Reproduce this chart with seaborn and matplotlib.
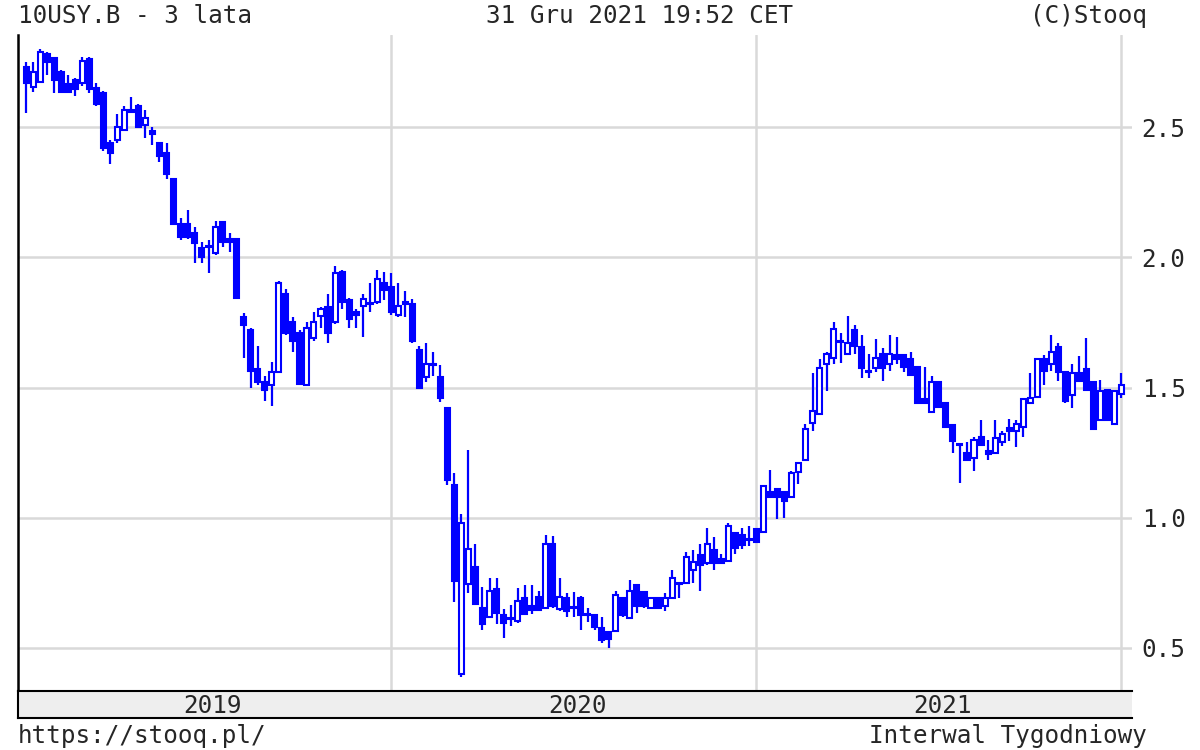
import matplotlib
matplotlib.use("Agg")

import matplotlib.pyplot as plt
import seaborn as sns
import pandas as pd

sns.set_style("white")
plt.rcParams["font.family"] = ["DejaVu Sans Mono", "DejaVu Sans"]

# tygodniowe swiece 10USY.B, tydzien od poniedzialku
weeks = pd.date_range("2018-12-31", periods=157, freq="7D")

opens = [
    2.73, 2.655, 2.675, 2.78, 2.765, 2.71, 2.665, 2.68, 2.67, 2.76,
    2.65, 2.63, 2.44, 2.45, 2.49, 2.56, 2.58, 2.51, 2.485, 2.44,
    2.40, 2.30, 2.13, 2.13, 2.095, 2.035, 2.04, 2.015, 2.135, 2.07,
    2.07, 1.77, 1.72, 1.57, 1.52, 1.51, 1.56, 1.86, 1.75, 1.71,
    1.51, 1.69, 1.775, 1.81, 1.75, 1.945, 1.835, 1.79, 1.815, 1.82,
    1.83, 1.90, 1.885, 1.78, 1.83, 1.82, 1.645, 1.54, 1.59, 1.54,
    1.42, 1.127, 0.40, 0.745, 0.81, 0.655, 0.62, 0.725, 0.625, 0.61,
    0.605, 0.69, 0.66, 0.695, 0.655, 0.90, 0.65, 0.69, 0.655, 0.69,
    0.625, 0.625, 0.575, 0.56, 0.565, 0.69, 0.615, 0.74, 0.715, 0.655,
    0.69, 0.66, 0.69, 0.75, 0.75, 0.80, 0.855, 0.825, 0.875, 0.84,
    0.835, 0.94, 0.935, 0.915, 0.955, 0.945, 1.10, 1.11, 1.10, 1.08,
    1.175, 1.22, 1.365, 1.40, 1.59, 1.615, 1.68, 1.63, 1.72, 1.655,
    1.56, 1.575, 1.63, 1.59, 1.625, 1.625, 1.61, 1.58, 1.455, 1.405,
    1.52, 1.44, 1.355, 1.28, 1.25, 1.23, 1.31, 1.255, 1.25, 1.29,
    1.345, 1.335, 1.35, 1.44, 1.465, 1.61, 1.59, 1.655, 1.56, 1.47,
    1.555, 1.57, 1.52, 1.375, 1.49, 1.36, 1.475,
]
highs = [
    2.75, 2.75, 2.80, 2.79, 2.77, 2.72, 2.70, 2.69, 2.77, 2.77,
    2.67, 2.64, 2.45, 2.55, 2.58, 2.615, 2.59, 2.565, 2.50, 2.44,
    2.44, 2.30, 2.15, 2.18, 2.115, 2.06, 2.065, 2.14, 2.14, 2.095,
    2.075, 1.785, 1.73, 1.66, 1.545, 1.60, 1.91, 1.88, 1.77, 1.72,
    1.75, 1.79, 1.81, 1.86, 1.965, 1.95, 1.845, 1.80, 1.86, 1.90,
    1.95, 1.945, 1.94, 1.90, 1.87, 1.84, 1.66, 1.67, 1.635, 1.585,
    1.42, 1.17, 1.015, 1.26, 0.90, 0.735, 0.77, 0.77, 0.65, 0.665,
    0.73, 0.74, 0.74, 0.72, 0.935, 0.93, 0.77, 0.71, 0.715, 0.70,
    0.655, 0.63, 0.62, 0.56, 0.72, 0.695, 0.76, 0.74, 0.72, 0.695,
    0.695, 0.71, 0.80, 0.75, 0.87, 0.875, 0.90, 0.96, 0.925, 0.86,
    0.98, 0.94, 0.96, 0.97, 0.96, 1.12, 1.185, 1.115, 1.10, 1.18,
    1.21, 1.36, 1.555, 1.61, 1.635, 1.75, 1.71, 1.775, 1.74, 1.70,
    1.63, 1.685, 1.65, 1.70, 1.695, 1.63, 1.635, 1.58, 1.58, 1.545,
    1.52, 1.445, 1.355, 1.285, 1.29, 1.31, 1.375, 1.30, 1.375, 1.335,
    1.38, 1.375, 1.46, 1.555, 1.615, 1.625, 1.70, 1.67, 1.56, 1.59,
    1.62, 1.69, 1.525, 1.53, 1.495, 1.49, 1.555,
]
lows = [
    2.555, 2.635, 2.67, 2.70, 2.63, 2.63, 2.63, 2.62, 2.66, 2.63,
    2.58, 2.41, 2.36, 2.44, 2.485, 2.555, 2.50, 2.46, 2.43, 2.365,
    2.30, 2.13, 2.065, 2.07, 1.98, 1.98, 1.94, 2.01, 2.04, 2.02,
    1.84, 1.615, 1.50, 1.51, 1.45, 1.43, 1.555, 1.70, 1.635, 1.51,
    1.505, 1.68, 1.73, 1.67, 1.745, 1.80, 1.73, 1.73, 1.695, 1.79,
    1.82, 1.835, 1.78, 1.77, 1.77, 1.67, 1.50, 1.52, 1.545, 1.445,
    1.127, 0.675, 0.39, 0.71, 0.67, 0.57, 0.62, 0.59, 0.54, 0.585,
    0.595, 0.63, 0.63, 0.64, 0.65, 0.655, 0.64, 0.62, 0.62, 0.57,
    0.60, 0.57, 0.52, 0.50, 0.56, 0.62, 0.615, 0.635, 0.655, 0.65,
    0.655, 0.64, 0.69, 0.69, 0.75, 0.75, 0.72, 0.82, 0.80, 0.825,
    0.835, 0.86, 0.88, 0.89, 0.905, 0.94, 1.075, 0.995, 1.00, 1.075,
    1.13, 1.22, 1.335, 1.40, 1.485, 1.59, 1.595, 1.63, 1.63, 1.535,
    1.535, 1.56, 1.525, 1.565, 1.59, 1.56, 1.545, 1.435, 1.435, 1.405,
    1.425, 1.345, 1.25, 1.135, 1.22, 1.18, 1.28, 1.22, 1.25, 1.275,
    1.295, 1.27, 1.31, 1.44, 1.465, 1.51, 1.565, 1.525, 1.44, 1.42,
    1.52, 1.49, 1.34, 1.375, 1.375, 1.36, 1.46,
]
closes = [
    2.67, 2.71, 2.79, 2.75, 2.68, 2.635, 2.635, 2.645, 2.755, 2.645,
    2.59, 2.42, 2.40, 2.50, 2.565, 2.565, 2.50, 2.535, 2.475, 2.39,
    2.32, 2.13, 2.08, 2.08, 2.055, 2.00, 2.045, 2.115, 2.06, 2.06,
    1.845, 1.74, 1.565, 1.52, 1.49, 1.56, 1.90, 1.71, 1.68, 1.515,
    1.73, 1.75, 1.80, 1.71, 1.94, 1.83, 1.765, 1.78, 1.84, 1.825,
    1.915, 1.875, 1.79, 1.815, 1.82, 1.68, 1.50, 1.59, 1.585, 1.46,
    1.145, 0.758, 0.98, 0.88, 0.67, 0.59, 0.72, 0.635, 0.595, 0.615,
    0.68, 0.63, 0.645, 0.645, 0.90, 0.66, 0.695, 0.64, 0.655, 0.625,
    0.625, 0.58, 0.53, 0.535, 0.705, 0.625, 0.72, 0.66, 0.66, 0.69,
    0.655, 0.69, 0.77, 0.745, 0.85, 0.83, 0.82, 0.90, 0.825, 0.825,
    0.97, 0.885, 0.895, 0.915, 0.905, 1.12, 1.08, 1.08, 1.065, 1.17,
    1.21, 1.34, 1.41, 1.575, 1.63, 1.725, 1.675, 1.67, 1.66, 1.575,
    1.56, 1.615, 1.575, 1.63, 1.61, 1.58, 1.55, 1.44, 1.44, 1.52,
    1.425, 1.35, 1.295, 1.28, 1.22, 1.30, 1.28, 1.245, 1.305, 1.32,
    1.335, 1.36, 1.455, 1.46, 1.61, 1.565, 1.635, 1.56, 1.45, 1.555,
    1.525, 1.49, 1.34, 1.485, 1.375, 1.485, 1.51,
]

year_labels = ["2019", "2020", "2021"]
y_ticks = [0.5, 1.0, 1.5, 2.0, 2.5]

BLUE = "#0000ff"
GRID = "#d9d9d9"

df = pd.DataFrame({"week": weeks, "open": opens, "high": highs,
                   "low": lows, "close": closes})
df["idx"] = range(len(df))
df["up"] = df["close"] >= df["open"]
df["bottom"] = df[["open", "close"]].min(axis=1)
df["body"] = (df["close"] - df["open"]).abs().clip(lower=0.004)

# pierwsza swieca kazdego roku (tydzien zawierajacy 1 stycznia)
bounds = df.groupby((df["week"] + pd.Timedelta(days=6)).dt.year)["idx"].min().tolist()

W, H = 1200, 750
fig = plt.figure(figsize=(12, 7.5), dpi=100)
ax = fig.add_axes([18 / W, 1 - 691 / H, (1132 - 18) / W, (691 - 35) / H])
band = fig.add_axes([18 / W, 1 - 718 / H, (1132 - 18) / W, (718 - 691) / H], sharex=ax)

ax.vlines(df["idx"], df["low"], df["high"], color=BLUE, linewidth=1.6, zorder=3)
up = df[df["up"]]
dn = df[~df["up"]]
ax.bar(up["idx"], up["body"], bottom=up["bottom"], width=0.72,
       color="white", edgecolor=BLUE, linewidth=1.5, zorder=4)
ax.bar(dn["idx"], dn["body"], bottom=dn["bottom"], width=0.72,
       color=BLUE, edgecolor=BLUE, linewidth=1.5, zorder=4)

ax.set_xlim(-1.15, 157.5)
ax.set_ylim(0.3346, 2.854)
ax.set_yticks(y_ticks)
ax.set_yticklabels([f"{v:.1f}" for v in y_ticks])
ax.yaxis.tick_right()
ax.tick_params(axis="y", length=0, labelsize=17.5, pad=7)
ax.set_xticks(bounds[1:])
ax.tick_params(axis="x", length=0, labelbottom=False)
ax.grid(True, color=GRID, linewidth=1.8, zorder=0)
ax.set_axisbelow(True)
for side in ["top", "right", "bottom"]:
    ax.spines[side].set_visible(False)
ax.spines["left"].set_color("black")
ax.spines["left"].set_linewidth(1.8)

band.set_facecolor("#eeeeee")
band.set_yticks([])
band.set_xticks(bounds[1:])
band.tick_params(axis="x", direction="in", length=6, width=1.2, labelbottom=False)
for i, lab in enumerate(year_labels):
    band.text((bounds[i] + bounds[i + 1]) / 2 + 0.5, 0.45, lab, ha="center", va="center",
              fontsize=17.5, transform=band.get_xaxis_transform())
for side in ["top", "bottom", "left"]:
    band.spines[side].set_color("black")
    band.spines[side].set_linewidth(1.5)
band.spines["right"].set_visible(False)

fig.text(18 / W, 1 - 16 / H, "10USY.B - 3 lata", ha="left", va="center", fontsize=17.5)
fig.text(640 / W, 1 - 16 / H, "31 Gru 2021 19:52 CET", ha="center", va="center", fontsize=17.5)
fig.text(1147 / W, 1 - 16 / H, "(C)Stooq", ha="right", va="center", fontsize=17.5)
fig.text(18 / W, 1 - 736 / H, "https://stooq.pl/", ha="left", va="center", fontsize=17.5)
fig.text(1147 / W, 1 - 736 / H, "Interwal Tygodniowy", ha="right", va="center", fontsize=17.5)

fig.savefig("out.png", dpi=100, facecolor="white")
plt.close(fig)
